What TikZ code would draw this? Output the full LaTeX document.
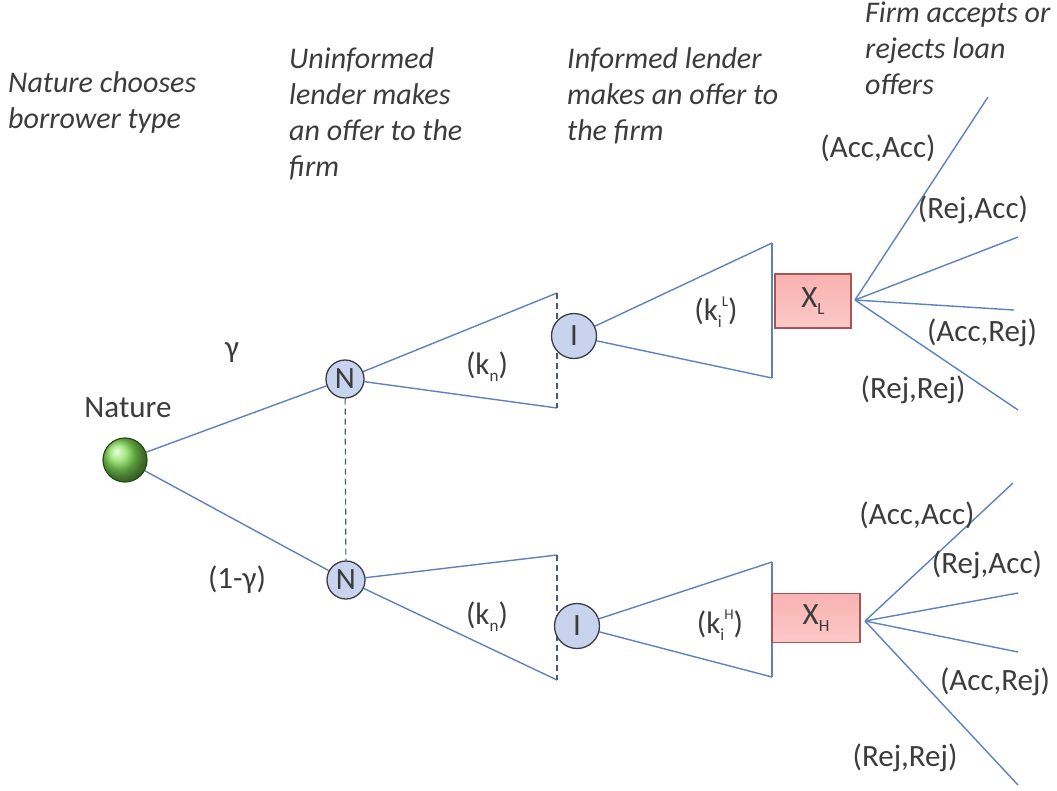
\documentclass[tikz,border=0pt]{standalone}
\usepackage{fontspec}
\setmainfont{Carlito}
\usetikzlibrary{backgrounds}
\definecolor{lineblue}{RGB}{95,130,190}
\definecolor{txt}{RGB}{60,60,60}
\definecolor{nodefill}{RGB}{200,212,238}
\definecolor{nodeborder}{RGB}{60,60,70}
\definecolor{boxfill}{RGB}{249,178,176}
\definecolor{boxborder}{RGB}{165,85,85}
\definecolor{greenlight}{RGB}{165,215,110}
\definecolor{greendark}{RGB}{50,110,30}
\newcommand{\subs}[1]{\raisebox{-0.22em}{\fontsize{17}{17}\selectfont #1}}
\newcommand{\sups}[1]{\raisebox{0.45em}{\fontsize{15}{15}\selectfont #1}}
\begin{document}
\begin{tikzpicture}[x=1pt,y=-1pt,
  every node/.style={text=txt,font=\fontsize{31}{36}\selectfont},
  branch/.style={draw=lineblue,line width=1.4pt},
  infoset/.style={draw=lineblue!70!black,line width=1.2pt,dash pattern=on 6pt off 4pt},
  playerN/.style={circle,draw=nodeborder,line width=1.3pt,fill=nodefill,minimum size=38pt,inner sep=0pt},
  playerI/.style={circle,draw=nodeborder,line width=1.3pt,fill=nodefill,minimum size=45pt,inner sep=0pt},
  naturenode/.style={circle,draw=greendark!70!black,line width=1.2pt,ball color=greenlight!80!green,shading=ball,minimum size=44pt,inner sep=0pt},
  outcome/.style={rectangle,draw=boxborder,line width=1.2pt,top color=boxfill,bottom color=boxfill!70!white,inner sep=0pt},
  stage/.style={align=left,anchor=north west,font=\fontsize{30}{36}\selectfont\itshape,inner sep=0pt},
  lbl/.style={inner sep=0pt}]
\useasboundingbox (0,0) rectangle (1057,790);

% stage captions
\node[stage] (s1) at (8,71) {Nature chooses\\borrower type};
\node[stage] (s2) at (289,47) {Uninformed\\lender makes\\an offer to the\\firm};
\node[stage] (s3) at (567,47) {Informed lender\\makes an offer to\\the firm};
\node[stage] (s4) at (865,2) {Firm accepts or\\rejects loan\\offers};

% nodes
\node[naturenode] (nat) at (125,460) {};
\node[lbl] (natl) at (128,408) {Nature};
\node[playerN] (Nt) at (345,379) {N};
\node[playerN] (Nb) at (346,580) {N};
\node[playerI] (It) at (574,336) {I};
\node[playerI] (Ib) at (577,626) {I};
\node[outcome,minimum width=76pt,minimum height=54pt] (XL) at (813,301) {X\subs{L}};
\node[outcome,minimum width=88pt,minimum height=49pt] (XH) at (816,618) {X\subs{H}};

% corner coordinates
\coordinate (Tt1) at (557,293);
\coordinate (Tt2) at (557,408);
\coordinate (Tb1) at (557,555);
\coordinate (Tb2) at (557,680);
\coordinate (Ut1) at (772,243);
\coordinate (Ut2) at (772,378);
\coordinate (Ub1) at (772,562);
\coordinate (Ub2) at (772,677);
\coordinate (XLo) at (855,300);
\coordinate (XHo) at (865,621);
\coordinate (L1) at (988,97);
\coordinate (L2) at (1018,237);
\coordinate (L3) at (1014,310);
\coordinate (L4) at (1018,410);
\coordinate (H1) at (1013,483);
\coordinate (H2) at (1018,593);
\coordinate (H3) at (1018,652);
\coordinate (H4) at (1018,785);

\begin{pgfonlayer}{background}
\fill[white] (0,0) rectangle (1057,790);
\draw[branch] (nat) -- (Nt);
\draw[branch] (nat) -- (Nb);
\draw[infoset] (Nt) -- (Nb);
\draw[branch] (Tt1) -- (Nt) -- (Tt2);
\draw[infoset] (Tt1) -- (Tt2);
\draw[branch] (Tb1) -- (Nb) -- (Tb2);
\draw[infoset] (Tb1) -- (Tb2);
\draw[branch] (Ut1) -- (It) -- (Ut2);
\draw[branch] (Ut1) -- (Ut2);
\draw[branch] (Ub1) -- (Ib) -- (Ub2);
\draw[branch] (Ub1) -- (Ub2);
\draw[branch] (XLo) -- (L1);
\draw[branch] (XLo) -- (L2);
\draw[branch] (XLo) -- (L3);
\draw[branch] (XLo) -- (L4);
\draw[branch] (XHo) -- (H1);
\draw[branch] (XHo) -- (H2);
\draw[branch] (XHo) -- (H3);
\draw[branch] (XHo) -- (H4);
\end{pgfonlayer}

% labels
\node[lbl] (g1) at (232,353) {γ};
\node[lbl] (g2) at (237,580) {(1-γ)};
\node[lbl] (kn1) at (487,367) {(k\subs{n})};
\node[lbl] (kn2) at (487,617) {(k\subs{n})};
\node[lbl] (kiL) at (716,312) {(k\subs{i}\sups{L})};
\node[lbl] (kiH) at (720,625) {(k\subs{i}\sups{H})};

\node[lbl] (la1) at (878,148) {(Acc,Acc)};
\node[lbl] (la2) at (973,210) {(Rej,Acc)};
\node[lbl] (la3) at (982,333) {(Acc,Rej)};
\node[lbl] (la4) at (913,390) {(Rej,Rej)};
\node[lbl] (lb1) at (917,515) {(Acc,Acc)};
\node[lbl] (lb2) at (987,565) {(Rej,Acc)};
\node[lbl] (lb3) at (995,682) {(Acc,Rej)};
\node[lbl] (lb4) at (905,758) {(Rej,Rej)};
\end{tikzpicture}
\end{document}
